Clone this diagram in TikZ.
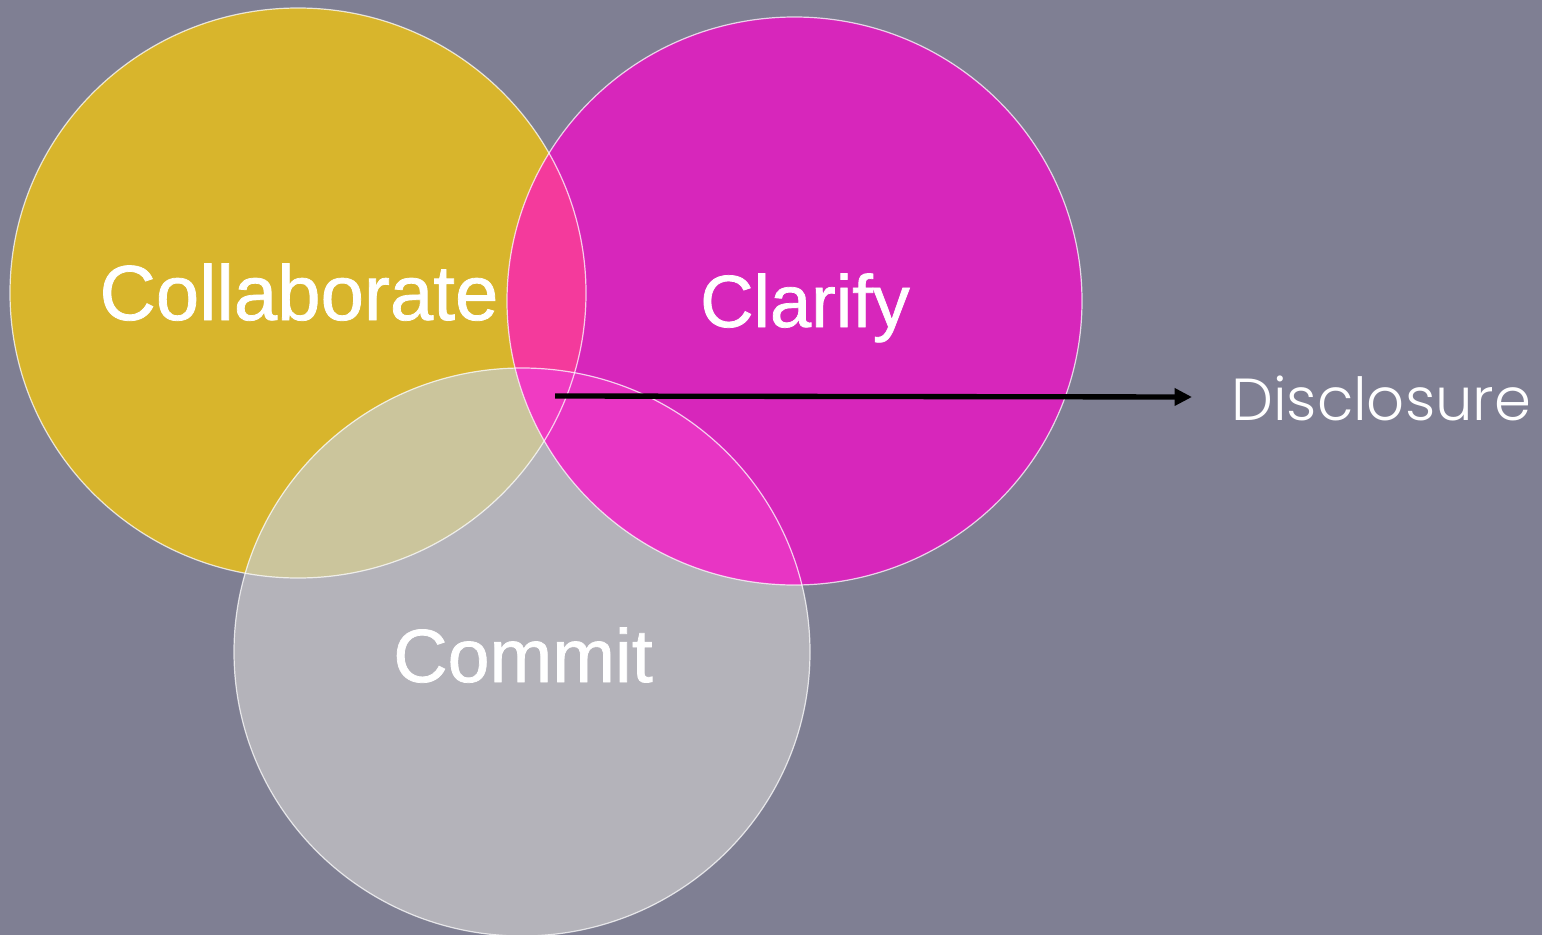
\documentclass[tikz,border=0pt]{standalone}
\usepackage{fontspec}
\setmainfont{Liberation Sans}
\newfontfamily\lblfont{Liberation Sans}[BoldFont={Liberation Sans}, BoldFeatures={FakeBold=1}]
\newfontfamily\discfont{Poppins Light}
\usetikzlibrary{arrows.meta}
\definecolor{bg}{HTML}{7F7F93}
\definecolor{gold}{HTML}{D8B52C}
\definecolor{magenta}{HTML}{D726BB}
\definecolor{silver}{HTML}{B4B3BA}
\definecolor{goldmag}{HTML}{F43A9C}
\definecolor{goldsilver}{HTML}{CBC59C}
\definecolor{magsilver}{HTML}{E835C4}
\definecolor{allthree}{HTML}{F03BC2}
\tikzset{
  rim/.style={draw=white, draw opacity=0.75, line width=0.9pt},
  lbl/.style={text=white, inner sep=0pt, anchor=base},
  pointer/.style={line width=4pt, -{Triangle[length=13pt,width=12.5pt]}}
}
\begin{document}
\begin{tikzpicture}[x=0.75pt,y=-0.75pt]
\useasboundingbox (0,0) rectangle (1542,935);
\fill[bg] (0,0) rectangle (1542,935);
\coordinate (cA) at (298,293);
\coordinate (cB) at (794.5,301);
\coordinate (cC) at (522,652);
% base discs
\fill[gold] (cA) ellipse [x radius=288, y radius=285];
\fill[magenta] (cB) ellipse [x radius=287.5, y radius=284];
\fill[silver] (cC) ellipse [x radius=288, y radius=284];
% pairwise overlaps
\begin{scope}
  \clip (cA) ellipse [x radius=288, y radius=285];
  \fill[goldmag] (cB) ellipse [x radius=287.5, y radius=284];
  \fill[goldsilver] (cC) ellipse [x radius=288, y radius=284];
\end{scope}
\begin{scope}
  \clip (cB) ellipse [x radius=287.5, y radius=284];
  \fill[magsilver] (cC) ellipse [x radius=288, y radius=284];
\end{scope}
% triple overlap
\begin{scope}
  \clip (cA) ellipse [x radius=288, y radius=285];
  \clip (cB) ellipse [x radius=287.5, y radius=284];
  \fill[allthree] (cC) ellipse [x radius=288, y radius=284];
\end{scope}
% outlines
\draw[rim] (cA) ellipse [x radius=288, y radius=285];
\draw[rim] (cB) ellipse [x radius=287.5, y radius=284];
\draw[rim] (cC) ellipse [x radius=288, y radius=284];
% labels
\node[lbl, font=\lblfont\bfseries\fontsize{58.5}{58.5}\selectfont] (collab) at (299,320) {Collaborate};
\node[lbl, font=\lblfont\bfseries\fontsize{55.5}{55.5}\selectfont] (clarify) at (805,327) {Clarify};
\node[lbl, font=\lblfont\bfseries\fontsize{56.5}{56.5}\selectfont] (commit) at (523,682) {Commit};
\node[lbl, anchor=base west, font=\discfont\fontsize{44.5}{44.5}\selectfont] (disc) at (1231,420) {Disclosure};
% arrow
\coordinate (arrowstart) at (555,396);
\coordinate (arrowend) at (1192,397);
\draw[pointer] (arrowstart) -- (arrowend);
\end{tikzpicture}
\end{document}
